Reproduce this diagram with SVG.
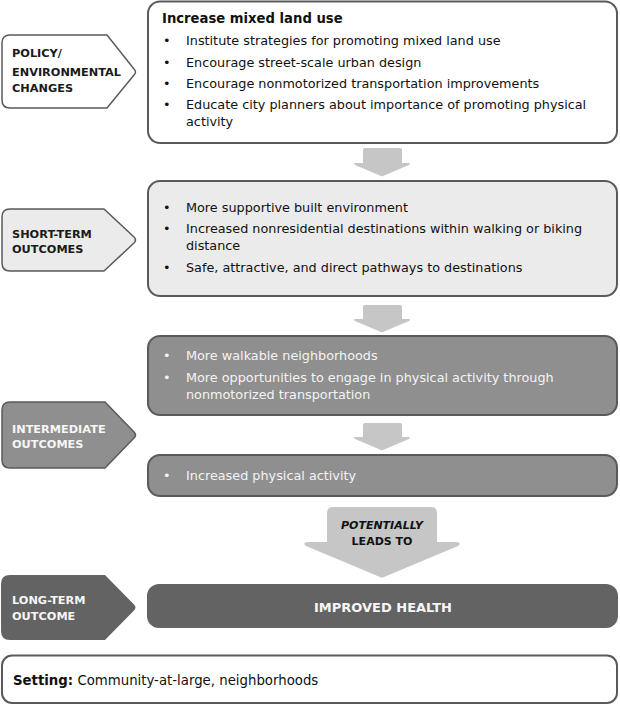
<svg xmlns="http://www.w3.org/2000/svg" width="620" height="705" viewBox="0 0 620 705">
<style>
text{font-family:"DejaVu Sans","Verdana",sans-serif}
.body{font-size:12.8px;fill:#111}
.bodyw{font-size:12.8px;fill:#f4f4f4}
.lab{font-size:11.3px;font-weight:bold;fill:#1a1a1a}
.labw{font-size:11.3px;font-weight:bold;fill:#f6f6f6}
.box{stroke:#5a5a5a;stroke-width:2}
.lstroke{stroke:#5a5a5a;stroke-width:1.5}
.arrow{fill:#c6c6c6}
</style>
<rect width="620" height="705" fill="#ffffff"/>

<g id="connectors">
  <path class="arrow" d="M365,148 H400 Q402,148 402,150 V163 H409 Q411,163 409,165 L383,176 Q382,176.5 381,176 L355,165 Q353,163 355,163 H363 V150 Q363,148 365,148 Z"/>
  <path class="arrow" d="M365,305 H400 Q402,305 402,307 V319 H409 Q411,319 409,321 L383,332 Q382,332.5 381,332 L355,321 Q353,319 355,319 H363 V307 Q363,305 365,305 Z"/>
  <path class="arrow" d="M365,423 H400 Q402,423 402,425 V437 H409 Q411,437 409,439 L383,450 Q382,450.5 381,450 L355,439 Q353,437 355,437 H363 V425 Q363,423 365,423 Z"/>
  <g id="potentially">
    <path class="arrow" d="M333,507 H431 Q437,507 437,513 V542 H457 Q462,543 458,546 L384,577 Q382,578 380,577 L306,546 Q302,543 307,542 H327 V513 Q327,507 333,507 Z"/>
    <text x="382" y="529" text-anchor="middle" style="font-size:11px;font-weight:bold;font-style:italic;fill:#111">POTENTIALLY</text>
    <text x="382" y="545" text-anchor="middle" style="font-size:11px;font-weight:bold;fill:#111">LEADS TO</text>
  </g>
</g>

<g id="label-policy">
  <path class="lstroke" fill="#ffffff" d="M10,35 H107 L134,69 Q137,72 134,75 L107,108 H10 Q2,108 2,100 V43 Q2,35 10,35 Z"/>
  <text class="lab" x="12" y="57">POLICY/</text>
  <text class="lab" x="12" y="76">ENVIRONMENTAL</text>
  <text class="lab" x="12" y="92">CHANGES</text>
</g>

<g id="box-policy">
  <rect class="box" x="148" y="1.5" width="469" height="141.5" rx="12" fill="#ffffff"/>
  <text x="162" y="23" style="font-size:13.2px;font-weight:bold;fill:#111">Increase mixed land use</text>
  <text class="body" x="163" y="45">•</text><text class="body" x="186" y="45">Institute strategies for promoting mixed land use</text>
  <text class="body" x="163" y="67">•</text><text class="body" x="186" y="67">Encourage street-scale urban design</text>
  <text class="body" x="163" y="88">•</text><text class="body" x="186" y="88">Encourage nonmotorized transportation improvements</text>
  <text class="body" x="163" y="109">•</text><text class="body" x="186" y="109">Educate city planners about importance of promoting physical</text>
  <text class="body" x="186" y="126">activity</text>
</g>

<g id="label-short">
  <path class="lstroke" fill="#ebebeb" d="M10,209 H104 L134,237 Q137,240 134,243 L104,271 H10 Q2,271 2,263 V217 Q2,209 10,209 Z"/>
  <text class="lab" x="12" y="238">SHORT-TERM</text>
  <text class="lab" x="12" y="253">OUTCOMES</text>
</g>

<g id="box-short">
  <rect class="box" x="148" y="181" width="469" height="115" rx="12" fill="#ebebeb"/>
  <text class="body" x="163" y="212">•</text><text class="body" x="186" y="212">More supportive built environment</text>
  <text class="body" x="163" y="233">•</text><text class="body" x="186" y="233">Increased nonresidential destinations within walking or biking</text>
  <text class="body" x="186" y="250">distance</text>
  <text class="body" x="163" y="272">•</text><text class="body" x="186" y="272">Safe, attractive, and direct pathways to destinations</text>
</g>

<g id="label-intermediate">
  <path class="lstroke" fill="#8f8f8f" d="M10,402 H105 L134,432 Q137,435 134,438 L105,468 H10 Q2,468 2,460 V410 Q2,402 10,402 Z"/>
  <text class="labw" x="12" y="433">INTERMEDIATE</text>
  <text class="labw" x="12" y="448">OUTCOMES</text>
</g>

<g id="box-intermediate-1">
  <rect class="box" x="148" y="336" width="469" height="79" rx="12" fill="#8f8f8f"/>
  <text class="bodyw" x="163" y="360">•</text><text class="bodyw" x="186" y="360">More walkable neighborhoods</text>
  <text class="bodyw" x="163" y="382">•</text><text class="bodyw" x="186" y="382">More opportunities to engage in physical activity through</text>
  <text class="bodyw" x="186" y="399">nonmotorized transportation</text>
</g>

<g id="box-intermediate-2">
  <rect class="box" x="148" y="455" width="469" height="41" rx="12" fill="#8f8f8f"/>
  <text class="bodyw" x="163" y="480">•</text><text class="bodyw" x="186" y="480">Increased physical activity</text>
</g>

<g id="label-long">
  <path fill="#636363" d="M10,575 H105 L134,604.5 Q137,607.5 134,610.5 L105,640 H10 Q1,640 1,631 V584 Q1,575 10,575 Z"/>
  <text class="labw" x="12" y="604">LONG-TERM</text>
  <text class="labw" x="12" y="620">OUTCOME</text>
</g>

<g id="box-long">
  <rect x="147" y="584" width="471" height="44" rx="12" fill="#636363"/>
  <text x="383" y="612" text-anchor="middle" style="font-size:13px;font-weight:bold;fill:#f6f6f6">IMPROVED HEALTH</text>
</g>

<g id="setting">
  <rect class="box" x="2" y="655.5" width="615" height="47.5" rx="10" fill="#ffffff"/>
  <text x="13" y="685" style="font-size:13.3px;fill:#111"><tspan font-weight="bold">Setting:</tspan> Community-at-large, neighborhoods</text>
</g>
</svg>
